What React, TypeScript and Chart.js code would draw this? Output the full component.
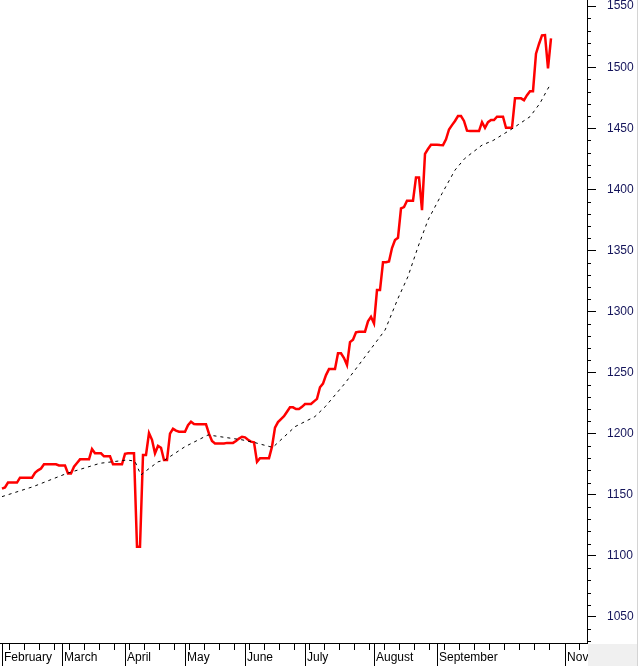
import React, { useEffect, useRef } from 'react';
import { Chart, registerables } from 'chart.js';

Chart.register(...registerables);

// Daily closing values (trading-day index 0 = first trading day of February)
const closeValues = [
  1155, 1156, 1160, 1160, 1160, 1160, 1164, 1164, 1164, 1164,
  1164, 1168, 1170, 1171.5, 1175, 1175, 1175, 1175, 1175, 1174,
  1174, 1174, 1167.5, 1167.5, 1173, 1176, 1179, 1179, 1179, 1179,
  1187.5, 1184, 1184, 1184, 1181.5, 1181.5, 1181.5, 1175, 1175, 1175,
  1175, 1183.5, 1184, 1184, 1184, 1107.5, 1107.5, 1182.6, 1182.6, 1200.5,
  1195, 1184, 1190, 1188.5, 1178.5, 1178.5, 1200, 1204, 1202.5, 1201.6,
  1201.6, 1201.6, 1207, 1209.8, 1208, 1207.7, 1207.7, 1207.7, 1207.7, 1200,
  1194, 1192, 1192, 1192, 1192, 1192.5, 1192.5, 1192.5, 1194, 1196,
  1197.5, 1197, 1195, 1193.5, 1193, 1177, 1180, 1180, 1180, 1180,
  1189.4, 1205, 1209.5, 1212, 1214.3, 1218, 1221.6, 1221.6, 1220.2, 1220.2,
  1222, 1224.3, 1224.3, 1224.3, 1226.5, 1228.5, 1238, 1241, 1248, 1252.9,
  1252.9, 1252.9, 1265.8, 1265.8, 1262, 1256.2, 1275, 1277, 1283, 1283.5,
  1283.5, 1283.5, 1292, 1295.7, 1290.3, 1317.6, 1317.6, 1340.3, 1340.3, 1341,
  1352, 1358.5, 1360.4, 1384.4, 1385.5, 1390.7, 1390.7, 1390.7, 1409.8, 1409.8,
  1383, 1429, 1433, 1436.5, 1436.5, 1436.5, 1436.3, 1436.2, 1441, 1449,
  1452.6, 1456, 1460, 1460, 1456, 1448, 1447.7, 1447.7, 1447.7, 1447.7,
  1455, 1450.4, 1455, 1456.8, 1456.8, 1459.5, 1459.5, 1459.5, 1450.4, 1450.4,
  1450.4, 1474.5, 1474.5, 1474.5, 1473, 1477.1, 1480.4, 1480.4, 1511, 1519,
  1526, 1526.3, 1499, 1523.5,
];

// Moving average (dashed) read at these trading-day positions
const maDays = [0, 10.3, 21.7, 32.7, 41.7, 44.3, 46.3, 47.7, 52, 54.3, 61, 68.7, 74.3, 80, 84.3, 89.3, 90.3, 97.7, 104.3, 107.7, 114.3, 121, 127.7, 132, 135.3, 138.7, 142, 146.7, 151, 154.3, 160, 163.7, 170.3, 176, 179.3, 181.7, 183];
const maValues = [1148.5, 1156.6, 1167.6, 1175.8, 1178.5, 1177.5, 1166.2, 1169, 1177, 1178.5, 1189.4, 1199, 1197, 1195, 1192.7, 1189.4, 1188.9, 1205.8, 1214, 1222, 1241.2, 1263, 1284.9, 1310.8, 1328.5, 1353.1, 1374.9, 1396.7, 1415.8, 1425.4, 1436.2, 1440, 1450, 1459.5, 1470.4, 1481.3, 1486.7];

// Month boundaries (trading-day index) and labels
const monthStarts = [0, 20, 41, 61, 81, 101, 124, 145, 187.7];
const monthLabels = ['February', 'March', 'April', 'May', 'June', 'July', 'August', 'September', 'Nov'];

// Y axis
const yMin = 1028.7;
const yMax = 1555;
const yMajorStep = 50;
const yMinorStep = 10;

// X axis range (trading days)
const xMin = -2 / 3;
const xMax = 195;
const weekStart = 2.3;
const weekStep = 5;

const FONT = '"Liberation Sans", Arial, sans-serif';

const decorPlugin = {
  id: 'decor',
  afterDraw(chart: any) {
    const ctx = chart.ctx;
    const xs = chart.scales.x;
    const ys = chart.scales.y;
    const area = chart.chartArea;
    ctx.save();
    ctx.strokeStyle = '#000';
    ctx.lineWidth = 1;
    // weekly minor ticks on x axis
    ctx.beginPath();
    for (let w = weekStart; w < xMax; w += weekStep) {
      if (monthStarts.some((m) => Math.abs(m - w) < 1)) continue;
      const px = Math.round(xs.getPixelForValue(w)) + 0.5;
      if (px > area.right) continue;
      ctx.moveTo(px, area.bottom);
      ctx.lineTo(px, area.bottom + 7);
    }
    // minor ticks on y axis
    for (let v = Math.ceil(yMin / yMinorStep) * yMinorStep; v <= yMax; v += yMinorStep) {
      if (v % yMajorStep === 0) continue;
      const py = Math.round(ys.getPixelForValue(v)) + 0.5;
      ctx.moveTo(area.right, py);
      ctx.lineTo(area.right + 4, py);
    }
    ctx.stroke();
    // gray corner and right border
    ctx.fillStyle = '#f0f0f0';
    ctx.fillRect(area.right + 1, area.bottom + 1, 637 - area.right - 1, chart.height - area.bottom - 1);
    ctx.fillStyle = '#d4d4d4';
    ctx.fillRect(637, 0, 1, chart.height);
    ctx.restore();
  },
};

export default function App() {
  const ref = useRef<HTMLCanvasElement | null>(null);

  useEffect(() => {
    document.body.style.margin = '0';
    const canvas = ref.current;
    if (!canvas) return;
    const chart = new Chart(canvas, {
      type: 'line',
      data: {
        datasets: [
          {
            label: 'Close',
            data: closeValues.map((v, i) => ({ x: i, y: v })),
            borderColor: '#ff0000',
            borderWidth: 2.5,
            pointRadius: 0,
            tension: 0,
            fill: false,
            order: 1,
          },
          {
            label: 'Average',
            data: maValues.map((v, i) => ({ x: maDays[i], y: v })),
            borderColor: '#000000',
            borderWidth: 1,
            borderDash: [3, 4],
            pointRadius: 0,
            tension: 0,
            fill: false,
            order: 0,
          },
        ],
      },
      options: {
        responsive: false,
        animation: false,
        devicePixelRatio: 1,
        events: [],
        layout: { padding: 0 },
        plugins: {
          legend: { display: false },
          tooltip: { enabled: false },
          title: { display: false },
        },
        scales: {
          x: {
            type: 'linear',
            position: 'bottom',
            min: xMin,
            max: xMax,
            afterBuildTicks: (s: any) => {
              s.ticks = monthStarts.map((v) => ({ value: v }));
            },
            afterFit: (s: any) => {
              s.height = 23;
              s.paddingLeft = 0;
              s.paddingRight = 0;
            },
            grid: { drawOnChartArea: false, drawTicks: true, tickLength: 23, color: '#000', lineWidth: 1 },
            border: { display: true, color: '#000', width: 1 },
            ticks: {
              autoSkip: false,
              maxRotation: 0,
              minRotation: 0,
              align: 'start',
              padding: -16,
              labelOffset: 2,
              color: '#000',
              font: { family: FONT, size: 12 },
              callback: (_v: any, i: number) => monthLabels[i],
            },
          },
          y: {
            type: 'linear',
            position: 'right',
            min: yMin,
            max: yMax,
            afterFit: (s: any) => {
              s.width = 53;
              s.paddingTop = 0;
              s.paddingBottom = 0;
            },
            grid: { drawOnChartArea: false, drawTicks: true, tickLength: 9, color: '#000', lineWidth: 1 },
            border: { display: true, color: '#000', width: 1 },
            ticks: {
              stepSize: yMajorStep,
              includeBounds: false,
              padding: 11,
              color: '#14145a',
              font: { family: FONT, size: 12 },
              callback: (v: any) => String(v),
            },
          },
        },
      } as any,
      plugins: [decorPlugin],
    });
    return () => chart.destroy();
  }, []);

  return (
    <div style={{ width: 640, height: 666, background: '#fff' }}>
      <canvas ref={ref} width={640} height={666} style={{ display: 'block' }} />
    </div>
  );
}
